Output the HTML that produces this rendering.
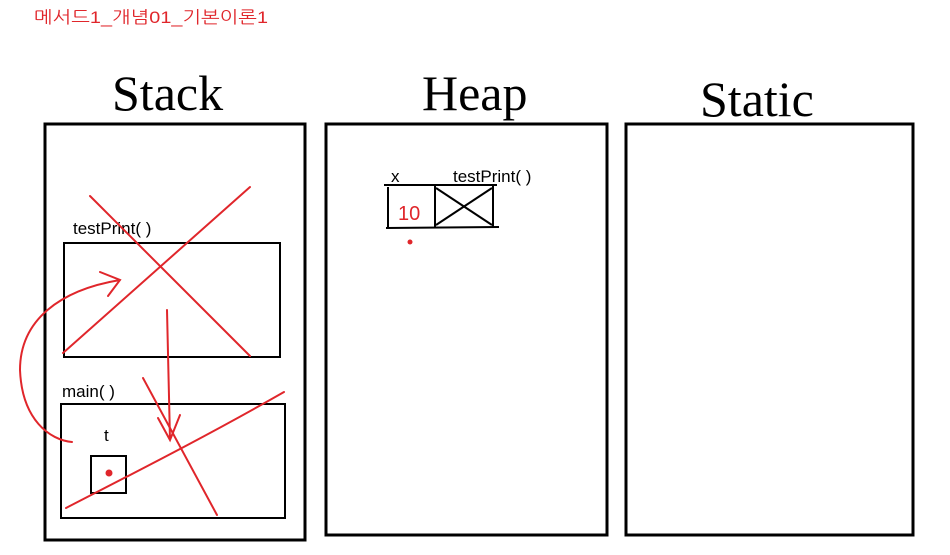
<!DOCTYPE html>
<html><head><meta charset="utf-8"><style>
html,body{margin:0;padding:0;background:#fff;}
svg{display:block;}
</style></head><body>
<svg width="950" height="555" viewBox="0 0 950 555" xmlns="http://www.w3.org/2000/svg">
<text x="34" y="23" font-family="'Liberation Sans','NanumGothic','Noto Sans CJK KR',sans-serif" font-size="17" textLength="234" lengthAdjust="spacingAndGlyphs" fill="#e0262b">메서드1_개념01_기본이론1</text>

<g font-family="'Liberation Serif',serif" font-size="50" fill="#000">
<text x="112" y="110">Stack</text>
<text x="422" y="110">Heap</text>
<text x="700" y="116">Static</text>
</g>

<g fill="none" stroke="#000" stroke-width="3">
<rect x="45" y="124" width="260" height="416"/>
<rect x="326" y="124" width="281" height="411"/>
<rect x="626" y="124" width="287" height="411"/>
</g>

<g font-family="'Liberation Sans',sans-serif" font-size="17" fill="#000">
<text x="73" y="234">testPrint( )</text>
<text x="62" y="397">main( )</text>
<text x="104" y="441">t</text>
<text x="391" y="182">x</text>
<text x="453" y="182">testPrint( )</text>
</g>

<g fill="none" stroke="#000" stroke-width="2">
<rect x="64" y="243" width="216" height="114"/>
<rect x="61" y="404" width="224" height="114"/>
<rect x="91" y="456" width="35" height="37"/>
<line x1="384" y1="185" x2="497" y2="185"/>
<line x1="386" y1="228" x2="499" y2="227"/>
<line x1="388" y1="187" x2="388" y2="228"/>
<line x1="435" y1="186" x2="435" y2="227"/>
<line x1="493" y1="186" x2="493" y2="227"/>
<line x1="436" y1="188" x2="492" y2="225"/>
<line x1="436" y1="225" x2="492" y2="188"/>
</g>

<g fill="none" stroke="#e0262b" stroke-width="2" stroke-linecap="round">
<line x1="90" y1="196" x2="250" y2="356"/>
<line x1="250" y1="187" x2="63" y2="353"/>
<line x1="143" y1="378" x2="217" y2="515"/>
<path d="M66 508 C120 480 200 440 284 392"/>
<path d="M167 310 L170 440 M158 418 L170 440 L180 415"/>
<path d="M72 442 C50 440 22 420 20 370 C20 320 60 290 120 280 M100 272 L120 280 L108 296"/>
</g>
<text x="398" y="220" font-family="'Liberation Sans',sans-serif" font-size="20" fill="#e0262b">10</text>
<circle cx="109" cy="473" r="3.5" fill="#e0262b"/>
<circle cx="410" cy="242" r="2.5" fill="#e0262b"/>
</svg>
</body></html>
